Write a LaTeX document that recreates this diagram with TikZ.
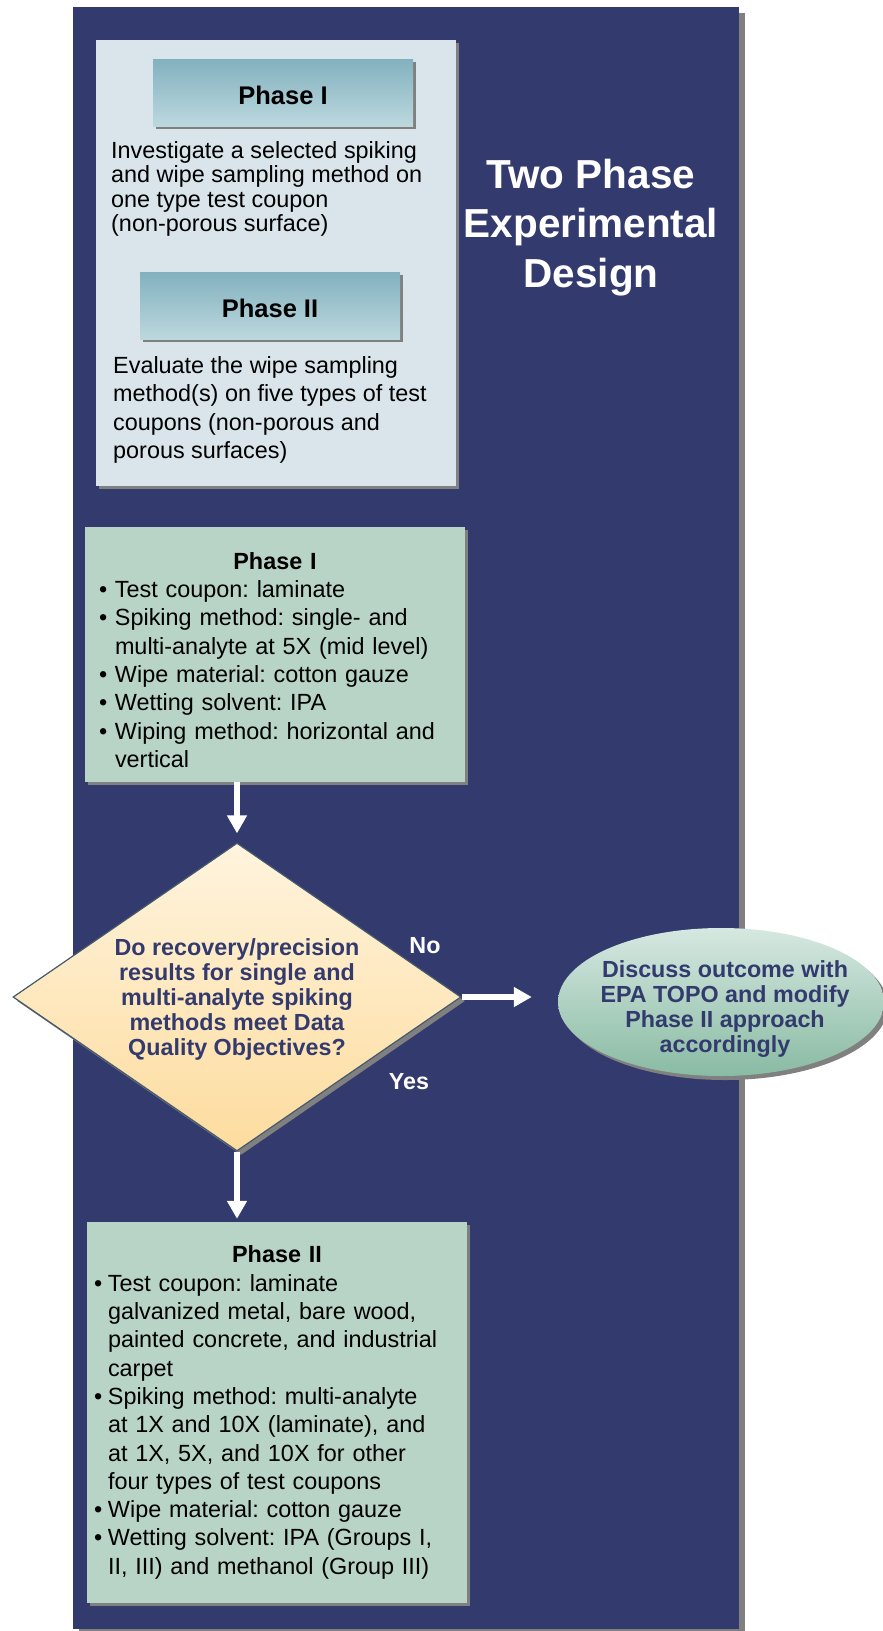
\documentclass[tikz,border=0pt]{standalone}
\usepackage{fontspec}
\setmainfont{Liberation Sans}
\usetikzlibrary{arrows.meta,shapes.geometric,shadows}

\definecolor{panelblue}{HTML}{333A6E}
\definecolor{overfill}{HTML}{D9E5EA}
\definecolor{hdrtop}{HTML}{82B1BE}
\definecolor{hdrbot}{HTML}{BCD8DE}
\definecolor{phasefill}{HTML}{B8D4C6}
\definecolor{dectop}{HTML}{FFF4DE}
\definecolor{decbot}{HTML}{FDDC9E}
\definecolor{decline}{HTML}{44596B}
\definecolor{outtop}{HTML}{D6E8E1}
\definecolor{outbot}{HTML}{89BBA3}
\definecolor{shadowgray}{HTML}{808080}

% bullet with hanging indent
\newcommand{\bul}[1]{\par\hangindent=#1\hangafter=1\noindent\makebox[#1][l]{\textbullet}}

\begin{document}
\frenchspacing
\begin{tikzpicture}[x=1pt, y=-1pt,
  >={Triangle[width=19pt,length=18pt]},
  shadowed/.style={drop shadow={shadow xshift=#1, shadow yshift=-#1, opacity=1, fill=shadowgray}},
  panel/.style={rectangle, fill=panelblue, minimum width=666pt, minimum height=1622pt, inner sep=0pt, shadowed=6pt},
  overview/.style={rectangle, fill=overfill, minimum width=360pt, minimum height=446pt, inner sep=0pt, shadowed=3pt},
  header/.style={rectangle, top color=hdrtop, bottom color=hdrbot, minimum width=260pt, minimum height=67pt, inner sep=0pt, text height=23pt, text depth=0pt, font=\fontsize{25.5}{30}\selectfont\bfseries, shadowed=3pt},
  desc/.style={anchor=west, inner sep=0pt, align=left},
  title/.style={text=white, align=center, inner sep=0pt, font=\fontsize{40.5}{49.5}\selectfont\bfseries},
  phase/.style={rectangle, fill=phasefill, minimum width=380pt, align=left, font=\fontsize{23.4}{28.3}\selectfont, shadowed=3pt},
  decision/.style={diamond, aspect=1.4545, minimum width=448pt, minimum height=308pt, inner sep=0pt, top color=dectop, bottom color=decbot, draw=decline, line width=1.2pt, align=center, text=panelblue, font=\fontsize{23.3}{25}\selectfont\bfseries, shadowed=4pt},
  outcome/.style={ellipse, minimum width=326pt, minimum height=148pt, inner sep=0pt, top color=outtop, bottom color=outbot, shadowed=4pt},
  outtext/.style={align=center, text=panelblue, inner sep=0pt, font=\fontsize{23.3}{24.7}\selectfont\bfseries},
  answer/.style={text=white, inner sep=0pt, font=\fontsize{23.3}{28}\selectfont\bfseries},
  flow/.style={draw=white, line width=6pt, ->}]
\useasboundingbox (0,0) rectangle (883,1631);

% background panel
\node[panel] (panel) at (406,818) {};

% overview of both phases
\node[overview] (over) at (276,263) {};
\node[header] (hdrI)  at (283,92.5)  {Phase I};
\node[header] (hdrII) at (270,305.5) {Phase II};
\node[desc, font=\fontsize{23.4}{24.5}\selectfont] (descI) at (111,189)
  {Investigate a selected spiking\\and wipe sampling method on\\one type test coupon\\(non-porous surface)};
\node[desc, font=\fontsize{23.4}{28.5}\selectfont] (descII) at (113,410)
  {Evaluate the wipe sampling\\method(s) on five types of test\\coupons (non-porous and\\porous surfaces)};

\node[title] (title) at (591,227.5) {Two Phase\\Experimental\\Design};

% phase I
\node[phase, text width=352pt, inner xsep=14pt, minimum height=255pt] (boxI) at (275,654.5)
  {{\centering\bfseries\rule{0pt}{28pt}Phase I\par}
   \bul{16pt}Test coupon: laminate
   \bul{16pt}Spiking method: single- and\newline multi-analyte at 5X (mid level)
   \bul{16pt}Wipe material: cotton gauze
   \bul{16pt}Wetting solvent: IPA
   \bul{16pt}Wiping method: horizontal and\newline vertical\par};

% decision
\node[decision] (dec) at (237,997)
  {\rule{0pt}{21.5pt}Do recovery/precision\\results for single and\\multi-analyte spiking\\methods meet Data\\Quality Objectives?};

\node[outcome] (disc) at (721,1002) {};
\node[outtext] (disctext) at (725,1009)
  {Discuss outcome with\\EPA TOPO and modify\\Phase II approach\\accordingly};

\node[answer] (no)  at (425,946)  {No};
\node[answer] (yes) at (409,1082) {Yes};

% phase II
\node[phase, text width=366pt, inner xsep=7pt, minimum height=381pt] (boxII) at (277,1412.5)
  {{\centering\bfseries Phase II\par}
   \bul{14pt}Test coupon: laminate\newline galvanized metal, bare wood,\newline painted concrete, and industrial\newline carpet
   \bul{14pt}Spiking method: multi-analyte\newline at 1X and 10X (laminate), and\newline at 1X, 5X, and 10X for other\newline four types of test coupons
   \bul{14pt}Wipe material: cotton gauze
   \bul{14pt}Wetting solvent: IPA (Groups I,\newline II, III) and methanol (Group III)\par};

% arrows
\draw[flow, shorten >=9pt] (boxI.south -| dec.north) -- (dec.north);
\draw[flow, shorten >=3pt] (dec.south) -- (boxII.north -| dec.south);
\draw[flow, shorten >=26pt] (dec.east) -- (disc.west |- dec.east);

\end{tikzpicture}
\end{document}
